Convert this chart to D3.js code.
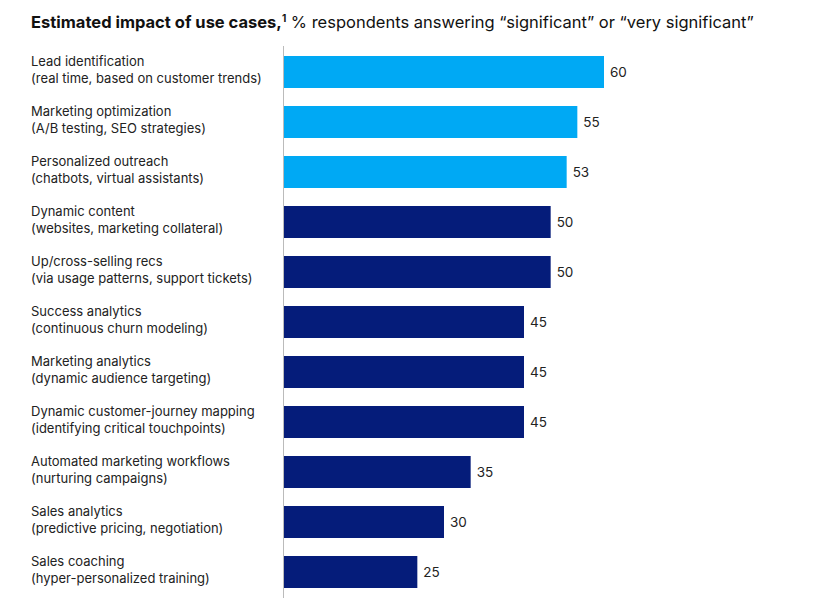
<!DOCTYPE html>
<html><head><meta charset="utf-8">
<script src="https://cdn.jsdelivr.net/npm/d3@7"></script>
<style>body{margin:0;background:#fff;font-family:Inter,"Noto Sans",sans-serif;}</style>
</head><body>
<svg id="chart" width="822" height="616"></svg>
<script>
const titles = ["Lead identification","Marketing optimization","Personalized outreach","Dynamic content","Up/cross-selling recs","Success analytics","Marketing analytics","Dynamic customer-journey mapping","Automated marketing workflows","Sales analytics","Sales coaching"];
const subtitles = ["(real time, based on customer trends)","(A/B testing, SEO strategies)","(chatbots, virtual assistants)","(websites, marketing collateral)","(via usage patterns, support tickets)","(continuous churn modeling)","(dynamic audience targeting)","(identifying critical touchpoints)","(nurturing campaigns)","(predictive pricing, negotiation)","(hyper-personalized training)"];
const values = [60,55,53,50,50,45,45,45,35,30,25];
const highlighted = [true,true,true,false,false,false,false,false,false,false,false];

const svg = d3.select("#chart");
const left = 284;
const x = d3.scaleLinear().domain([0,60]).range([left,604]);
const y = d3.scaleBand().domain(d3.range(values.length)).range([47,597]).paddingInner(0.36).paddingOuter(0.18);

const title = svg.append("text").attr("x",31).attr("y",28).attr("font-size",16.5).attr("fill","#111");
title.append("tspan").attr("font-weight","bold").text("Estimated impact of use cases,");
title.append("tspan").attr("font-size",10).attr("font-weight","bold").attr("dy",-6).text("1");
title.append("tspan").attr("dy",6).text(" % respondents answering “significant” or “very significant”");

svg.append("line").attr("x1",283.5).attr("x2",283.5).attr("y1",46).attr("y2",598).attr("stroke","#bbb");

const g = svg.selectAll(".row").data(values).enter().append("g");
g.append("rect").attr("x",left).attr("y",(d,i)=>y(i)).attr("width",d=>x(d)-left).attr("height",y.bandwidth())
  .attr("fill",(d,i)=>highlighted[i]?"#00A9F4":"#051C7A");
g.append("text").attr("x",d=>x(d)+6).attr("y",(d,i)=>y(i)+y.bandwidth()/2+5).attr("font-size",13.5).attr("fill","#222").text(d=>d);
g.append("text").attr("x",31).attr("y",(d,i)=>y(i)+10).attr("font-size",13).attr("fill","#222").text((d,i)=>titles[i]);
g.append("text").attr("x",31).attr("y",(d,i)=>y(i)+27).attr("font-size",13).attr("fill","#222").text((d,i)=>subtitles[i]);
</script>
</body></html>
